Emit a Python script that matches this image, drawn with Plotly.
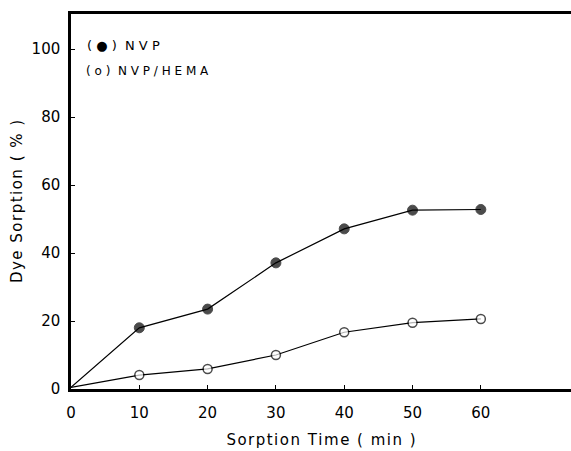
import plotly.graph_objects as go

time_min = [0, 10, 20, 30, 40, 50, 60]
nvp = [0.5, 18.0, 23.5, 37.1, 47.1, 52.6, 52.8]
nvp_hema = [0.5, 4.1, 5.9, 10.0, 16.7, 19.5, 20.6]
x_ticks = [0, 10, 20, 30, 40, 50, 60]
y_ticks = [0, 20, 40, 60, 80, 100]

FONT = "DejaVu Sans"
S = "\u00a0"
H = "\u200a"

def spaced(t):
    return S.join(list(t)).replace(S + " " + S, S * 2)

def hair(t):
    return H.join(list(t.replace(" ", S)))

fig = go.Figure()
fig.add_trace(go.Scatter(
    x=time_min, y=nvp, mode="lines+markers", name="NVP",
    line=dict(color="black", width=1.2),
    marker=dict(size=[0, 10, 10, 10, 10, 10, 10], color="black", symbol="circle",
                line=dict(color="black", width=1)),
))
fig.add_trace(go.Scatter(
    x=time_min, y=nvp_hema, mode="lines+markers", name="NVP / HEMA",
    line=dict(color="black", width=1.2),
    marker=dict(size=[0, 9, 9, 9, 9, 9, 9], color="white", symbol="circle",
                line=dict(color="black", width=1.5)),
))

fig.add_annotation(x=0.028, y=0.915, xref="paper", yref="paper", xanchor="left", yanchor="middle",
                   text="(" + S + "●" + S + ")" + S * 2 + spaced("NVP"), showarrow=False,
                   font=dict(family=FONT, size=13, color="black"))
fig.add_annotation(x=0.026, y=0.848, xref="paper", yref="paper", xanchor="left", yanchor="middle",
                   text="(" + S + "o" + S + ")" + S * 2 + spaced("NVP") + S + "/" + S + spaced("HEMA"),
                   showarrow=False, font=dict(family=FONT, size=12, color="black"))

fig.update_layout(
    width=571, height=451,
    margin=dict(l=71, r=0, t=14, b=62),
    paper_bgcolor="white", plot_bgcolor="white",
    showlegend=False,
    font=dict(family=FONT, size=15, color="black"),
    xaxis=dict(range=[0, 73.2], tickvals=x_ticks, ticktext=[str(v) for v in x_ticks],
               showgrid=False, zeroline=False, showline=True, linecolor="black", linewidth=2.5,
               mirror=True, ticks="inside", ticklen=4, tickcolor="black",
               ticklabelstandoff=8,
               title=dict(text=hair("Sorption Time ( min )"), standoff=14,
                          font=dict(family=FONT, size=15))),
    yaxis=dict(range=[0, 110.3], tickvals=y_ticks, ticktext=[str(v) for v in y_ticks],
               showgrid=False, zeroline=False, showline=True, linecolor="black", linewidth=2.5,
               ticks="inside", ticklen=4, tickcolor="black", ticklabelstandoff=5,
               title=dict(text=hair("Dye Sorption ( % )"), standoff=6,
                          font=dict(family=FONT, size=15))),
)

fig.write_html("out.html")
